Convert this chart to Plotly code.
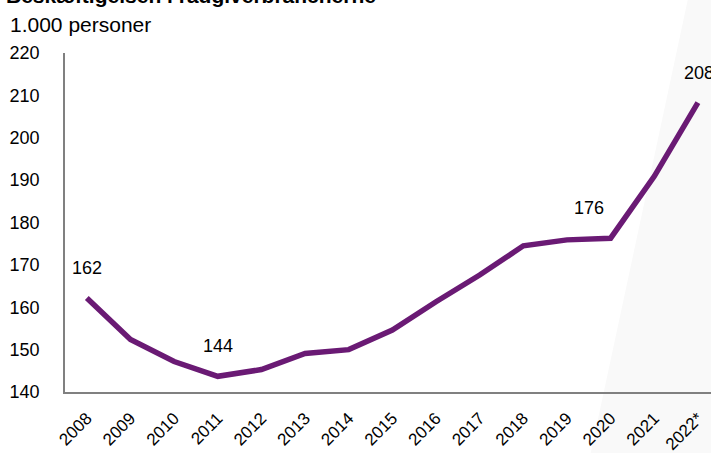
import plotly.graph_objects as go

years = ["2008", "2009", "2010", "2011", "2012", "2013", "2014", "2015",
         "2016", "2017", "2018", "2019", "2020", "2021", "2022*"]
employment = [162.2, 152.4, 147.2, 143.7, 145.3, 149.1, 150.0, 154.6,
              161.3, 167.6, 174.5, 175.9, 176.3, 190.9, 208.3]
labelled = {"2008": "162", "2011": "144", "2020": "176", "2022*": "208"}
label_shift = {"2008": 0, "2011": 0, "2020": -22, "2022*": 1}

title_text = "Beskæftigelsen i rådgiverbrancherne"
unit_text = "1.000 personer"
y_ticks = [140, 150, 160, 170, 180, 190, 200, 210, 220]

purple = "#6a1a74"
font_family = "Liberation Sans, Arial, sans-serif"

fig = go.Figure()
fig.add_trace(go.Scatter(
    x=years, y=employment, mode="lines",
    line=dict(color=purple, width=5.5),
    hoverinfo="skip", showlegend=False,
))

for yr, txt in labelled.items():
    idx = years.index(yr)
    fig.add_annotation(x=idx, y=employment[idx], text=txt, showarrow=False,
                       xshift=label_shift[yr], yshift=30,
                       font=dict(size=18, color="black", family=font_family))

# light grey decorative band on the right
fig.add_shape(type="path", xref="paper", yref="paper", layer="below",
              path="M 0.9644 1.16 L 1.05 1.16 L 1.05 -0.19 L 0.8127 -0.19 Z",
              fillcolor="#f9f9f9", line=dict(width=0))

fig.add_annotation(xref="paper", yref="paper", x=-0.095, y=1.13,
                   xanchor="left", yanchor="bottom", showarrow=False,
                   text="<b>" + title_text + "</b>",
                   font=dict(size=21, color="black", family=font_family))
fig.add_annotation(xref="paper", yref="paper", x=-0.088, y=1.085,
                   xanchor="left", yanchor="middle", showarrow=False,
                   text=unit_text,
                   font=dict(size=21, color="black", family=font_family))

fig.update_layout(
    width=711, height=453,
    margin=dict(l=65, r=0, t=53, b=61),
    paper_bgcolor="white", plot_bgcolor="rgba(0,0,0,0)",
    font=dict(family=font_family, size=17, color="black"),
    xaxis=dict(type="category", range=[-0.5, 14.3], showgrid=False,
               showline=True, linecolor="#808080", linewidth=1.5,
               ticks="", tickangle=-45, automargin=False,
               ticklabelstandoff=8,
               tickfont=dict(size=17, color="black")),
    yaxis=dict(range=[140, 220], tickvals=y_ticks, showgrid=False,
               showline=True, linecolor="#808080", linewidth=1.5,
               ticks="", zeroline=False, automargin=False,
               ticklabelstandoff=20,
               tickfont=dict(size=18, color="black")),
)

fig.write_html("out.html", config={"displayModeBar": False},
               post_script="document.body.style.margin='0';")
